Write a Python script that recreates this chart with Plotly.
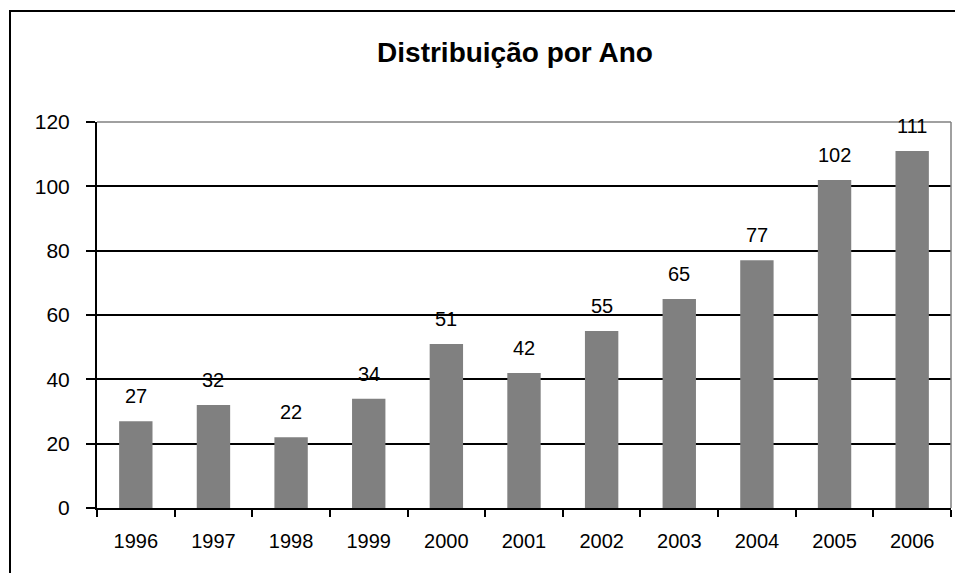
import plotly.graph_objects as go

years = ["1996", "1997", "1998", "1999", "2000", "2001", "2002", "2003", "2004", "2005", "2006"]
counts = [27, 32, 22, 34, 51, 42, 55, 65, 77, 102, 111]
y_ticks = [0, 20, 40, 60, 80, 100, 120]
title_text = "Distribuição por Ano"

FONT = "Liberation Sans, Arial, sans-serif"

fig = go.Figure()
fig.add_trace(go.Bar(
    x=years, y=counts,
    marker=dict(color="#808080", line=dict(width=0)),
    width=0.43,
    hoverinfo="x+y",
))

for i, v in enumerate(counts):
    fig.add_annotation(x=i, y=v, text=str(v), showarrow=False,
                       yanchor="bottom", yshift=12,
                       font=dict(family=FONT, size=20, color="black"))

W, H = 955, 573
L, R, T, B = 97, 4, 122, 65
pw, ph = W - L - R, H - T - B

def px_to_paper_x(px):
    return (px - L) / pw

def px_to_paper_y(py):
    return (H - B - py) / ph

shapes = [
    dict(type="rect", xref="paper", yref="paper",
         x0=px_to_paper_x(10), x1=px_to_paper_x(1000),
         y0=px_to_paper_y(620), y1=px_to_paper_y(11),
         line=dict(color="black", width=2), fillcolor="rgba(0,0,0,0)", layer="above"),
    dict(type="line", xref="paper", yref="paper", x0=0, x1=1, y0=1, y1=1,
         line=dict(color="#808080", width=1.5), layer="above"),
    dict(type="line", xref="paper", yref="paper", x0=1, x1=1, y0=0, y1=1,
         line=dict(color="#808080", width=1.5), layer="above"),
]

fig.update_layout(
    width=W, height=H,
    margin=dict(l=L, r=R, t=T, b=B),
    paper_bgcolor="white", plot_bgcolor="white",
    showlegend=False,
    font=dict(family=FONT, size=20, color="black"),
    title=dict(text="<b>" + title_text + "</b>", x=515 / W, xanchor="center",
               y=1 - 52 / H, yanchor="middle",
               font=dict(family=FONT, size=28, color="black")),
    shapes=shapes,
)

fig.update_xaxes(
    type="category", categoryorder="array", categoryarray=years,
    range=[-0.5, len(years) - 0.5],
    showline=True, linecolor="black", linewidth=2,
    ticks="outside", ticklen=7, tickwidth=2, tickcolor="black",
    tickson="boundaries", showgrid=False, tickangle=0,
    tickfont=dict(family=FONT, size=20, color="black"),
    ticklabelstandoff=14,
)
fig.update_yaxes(
    range=[0, 120], tickvals=y_ticks,
    showline=True, linecolor="black", linewidth=2,
    ticks="outside", ticklen=9, tickwidth=2, tickcolor="black",
    showgrid=True, gridcolor="black", gridwidth=1.5,
    zeroline=False,
    tickfont=dict(family=FONT, size=21, color="black"),
    ticklabelstandoff=12,
)

fig.write_html("out.html",
               config={"displayModeBar": False},
               post_script="document.body.style.margin='0';document.body.style.overflow='hidden';")
